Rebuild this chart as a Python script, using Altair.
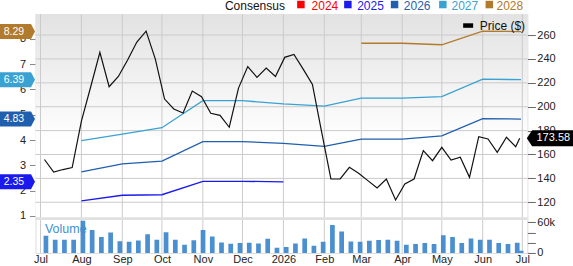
import altair as alt
import pandas as pd

# ---------------- data ----------------
price_dates = list(pd.date_range("2025-07-04", periods=52, freq="7D").strftime("%Y-%m-%d")) + ["2026-06-29"]
price = [155.8, 145.2, 147.4, 149.1, 188.0, 216.5, 245.5, 216.7, 225.3, 239.1,
         254.1, 263.3, 239.9, 206.4, 198.1, 194.7, 213.1, 208.4, 194.5, 192.8,
         182.8, 215.6, 233.6, 224.6, 232.4, 225.3, 241.3, 243.7, 231.5, 218.6,
         178.8, 139.5, 139.5, 149.3, 144.3, 138.1, 132.0, 139.5, 121.9, 135.3,
         139.5, 163.2, 154.8, 166.0, 155.4, 157.7, 140.9, 174.9, 173.0, 161.8,
         174.4, 166.5, 173.58]
volume_k = [33.5, 25.7, 25.7, 25.7, 63.0, 45.0, 31.0, 40.0, 23.0, 22.0,
            24.4, 36.8, 25.7, 40.6, 25.7, 16.0, 25.0, 45.0, 32.0, 20.5,
            18.0, 19.4, 20.0, 18.6, 27.7, 10.3, 11.6, 18.6, 28.3, 14.0,
            21.9, 54.8, 41.8, 22.5, 21.9, 23.8, 25.2, 25.7, 23.8, 16.0,
            17.4, 19.4, 17.4, 34.8, 31.0, 19.4, 28.3, 25.7, 25.7, 19.4,
            17.4, 20.0, 4.5]

eps_dates = ["2025-08-01", "2025-09-01", "2025-10-01", "2025-11-01", "2025-12-01",
             "2026-01-01", "2026-02-01", "2026-03-01", "2026-04-01", "2026-05-01",
             "2026-06-01", "2026-06-30"]
eps_2025 = [1.60, 1.82, 1.84, 2.37, 2.37, 2.35]
eps_2026 = [2.74, 3.06, 3.17, 3.94, 3.94, 3.87, 3.75, 4.04, 4.04, 4.17, 4.85, 4.83]
eps_2027 = [3.98, 4.24, 4.49, 5.56, 5.56, 5.43, 5.34, 5.66, 5.66, 5.72, 6.41, 6.39]
eps_2028 = [7.83, 7.83, 7.77, 8.31, 8.29]

series_names = ["2024", "2025", "2026", "2027", "2028"]
series_colors = ["#ff0000", "#1a1aee", "#1f5fae", "#3aa2d2", "#b27a2c"]

month_starts = ["2025-07-01", "2025-08-01", "2025-09-01", "2025-10-01", "2025-11-01",
                "2025-12-01", "2026-01-01", "2026-02-01", "2026-03-01", "2026-04-01",
                "2026-05-01", "2026-06-01", "2026-07-01"]
price_ticks = [120, 140, 160, 180, 200, 220, 240, 260]
eps_ticks = [1, 2, 3, 4, 5, 6, 7, 8]
vol_ticks = [0, 20, 40, 60]

# ---------------- tables ----------------
price_df = pd.DataFrame({"date": price_dates, "price": price, "vol": volume_k})
eps_rows = []
for name, vals, dates in [("2025", eps_2025, eps_dates[:6]), ("2026", eps_2026, eps_dates),
                          ("2027", eps_2027, eps_dates), ("2028", eps_2028, eps_dates[7:])]:
    for d, v in zip(dates, vals):
        eps_rows.append({"series": name, "date": d, "eps": v})
eps_df = pd.DataFrame(eps_rows)
last_eps = eps_df.groupby("series", as_index=False).last()
last_price = price_df.tail(1)

# ---------------- layout ----------------
W, H, PH = 492, 239, 204
FONT = "Liberation Sans"

xscale = alt.Scale(type="utc",
                   domain=[alt.DateTime(year=2025, month=7, date=1, utc=True),
                           alt.DateTime(year=2026, month=7, date=1, utc=True)])
xaxis = alt.Axis(values=[alt.DateTime(year=int(s[:4]), month=int(s[5:7]), date=1, utc=True) for s in month_starts],
                 labelExpr="utcFormat(datum.value, '%m') == '01' ? utcFormat(datum.value, '%Y') : utcFormat(datum.value, '%b')",
                 ticks=False, domain=False, grid=False, labelFlush=False, labelPadding=1,
                 labelFontSize=11, labelColor="#222", title=None, zindex=0)
price_scale = alt.Scale(domain=[106.86, 277.57], range=[PH, 0], zero=False, nice=False)
eps_scale = alt.Scale(domain=[0.921, 8.984], range=[PH, 0], zero=False, nice=False)
vol_scale = alt.Scale(domain=[0, 68.4], range=[H, PH], zero=False, nice=False)
color_scale = alt.Scale(domain=series_names, range=series_colors)

gradient = alt.Gradient(gradient="linear",
                        stops=[alt.GradientStop(offset=0, color="#e2e2e2"),
                               alt.GradientStop(offset=0.62, color="#ffffff")],
                        x1=0, x2=0, y1=0, y2=1)
one = pd.DataFrame({"k": [0]})

bg = alt.Chart(one).mark_rect(fill=gradient).encode(
    x=alt.value(0), x2=alt.value(W), y=alt.value(0), y2=alt.value(PH))

vgrid = alt.Chart(pd.DataFrame({"date": month_starts})).mark_rule(color="#cbcbcb", strokeWidth=1).encode(
    x=alt.X("date:T", scale=xscale, axis=xaxis), y=alt.value(0), y2=alt.value(H))

hgrid = alt.Chart(pd.DataFrame({"p": price_ticks})).mark_rule(color="#cbcbcb", strokeWidth=1).encode(
    y=alt.Y("p:Q", scale=price_scale, axis=None), x=alt.value(0), x2=alt.value(W))

sep = alt.Chart(one).mark_rule(color="#e0e0e0", strokeWidth=2.7).encode(
    y=alt.value(204.7), x=alt.value(0), x2=alt.value(W))

vol = alt.Chart(price_df).mark_bar(color="#4a8fd0", width=4.7, xOffset=1.5, clip=True).encode(
    x=alt.X("date:T", scale=xscale, axis=xaxis),
    y=alt.Y("vol:Q", scale=vol_scale,
            axis=alt.Axis(orient="right", values=vol_ticks, title=None, grid=False, domain=False,
                          labelExpr="datum.value == 0 ? '0' : datum.value + 'k'",
                          tickSize=8, tickColor="#666", labelPadding=1.5, labelFontSize=11,
                          labelColor="#222", zindex=0)))

eps_lines = alt.Chart(eps_df).mark_line(strokeWidth=1.3).encode(
    x=alt.X("date:T", scale=xscale, axis=xaxis),
    y=alt.Y("eps:Q", scale=eps_scale,
            axis=alt.Axis(orient="left", values=eps_ticks, title=None, grid=False, domain=False,
                          tickSize=6, tickColor="#888", labelPadding=4, labelFontSize=11,
                          labelColor="#222", zindex=0)),
    color=alt.Color("series:N", scale=color_scale, legend=None),
    detail="series:N")

price_line = alt.Chart(price_df).mark_line(color="#111111", strokeWidth=1.2).encode(
    x=alt.X("date:T", scale=xscale, axis=xaxis),
    y=alt.Y("price:Q", scale=price_scale,
            axis=alt.Axis(orient="right", values=price_ticks, title=None, grid=False, domain=False,
                          tickSize=8, tickColor="#666", labelPadding=1.5, labelFontSize=11,
                          labelColor="#222", zindex=0)))

left_flag_shape = "M-1,-0.417L0.78,-0.417L1,0L0.78,0.417L-1,0.417Z"
eps_flags = alt.Chart(last_eps).mark_point(shape=left_flag_shape, size=1296, filled=True,
                                             opacity=1, strokeWidth=0).encode(
    x=alt.value(-18.5),
    y=alt.Y("eps:Q", scale=eps_scale, axis=None),
    color=alt.Color("series:N", scale=color_scale, legend=None))
eps_flag_text = alt.Chart(last_eps).mark_text(color="white", fontSize=10.5, align="center",
                                                baseline="middle", font=FONT).encode(
    x=alt.value(-21.5),
    y=alt.Y("eps:Q", scale=eps_scale, axis=None),
    text=alt.Text("eps:Q", format=".2f"))

right_flag_shape = "M-1,0L-0.78,-0.333L1,-0.333L1,0.333L-0.78,0.333Z"
price_flag = alt.Chart(last_price).mark_point(shape=right_flag_shape, size=2304, filled=True,
                                                opacity=1, strokeWidth=0, color="#000000").encode(
    x=alt.value(515.5),
    y=alt.Y("price:Q", scale=price_scale, axis=None))
price_flag_text = alt.Chart(last_price).mark_text(color="white", fontSize=11, align="center",
                                                   baseline="middle", font=FONT).encode(
    x=alt.value(518),
    y=alt.Y("price:Q", scale=price_scale, axis=None),
    text=alt.Text("price:Q", format=".2f"))

# legends / labels
legend_square_x = [265.5, 312.5, 359.2, 407.5, 454.0]
legend_text_x = [276.2, 321.8, 368.5, 416.2, 461.2]
legend_layers = [
    alt.Chart(one).mark_text(text="Consensus", align="right", baseline="alphabetic", fontSize=12,
                             color="#111", font=FONT).encode(x=alt.value(249.5), y=alt.value(-4.5))
]
for nm, col, sx, tx in zip(series_names, series_colors, legend_square_x, legend_text_x):
    legend_layers.append(alt.Chart(one).mark_square(size=56, color=col, opacity=1, filled=True).encode(
        x=alt.value(sx), y=alt.value(-9.5)))
    legend_layers.append(alt.Chart(one).mark_text(text=nm, align="left", baseline="alphabetic",
                                                  fontSize=12, color=col, font=FONT).encode(
        x=alt.value(tx), y=alt.value(-4.5)))

price_key_shape = "M-1,-0.45L1,-0.45L1,0.45L-1,0.45Z"
price_key = alt.Chart(one).mark_point(shape=price_key_shape, size=100, filled=True, opacity=1,
                                      strokeWidth=0, color="#000").encode(
    x=alt.value(432.8), y=alt.value(11.5))
price_key_text = alt.Chart(one).mark_text(text="Price ($)", align="left", baseline="middle",
                                          fontSize=12, color="#111", font=FONT).encode(
    x=alt.value(444.5), y=alt.value(11.5))
vol_label = alt.Chart(one).mark_text(text="Volume", align="left", baseline="middle",
                                     fontSize=12.5, color="#3d8fd1", font=FONT).encode(
    x=alt.value(9.5), y=alt.value(215))

chart = alt.layer(
    bg, vgrid, hgrid, sep, vol, eps_lines, price_line,
    eps_flags, eps_flag_text, price_flag, price_flag_text,
    price_key, price_key_text, vol_label, *legend_layers
).resolve_scale(y="independent").properties(
    width=W, height=H,
    autosize=alt.AutoSizeParams(type="none"),
    padding={"left": 35.5, "top": 14, "right": 45.7, "bottom": 13},
).configure_view(stroke="#c8c8c8", strokeWidth=1).configure(font=FONT)

chart.save("out.html", embed_options={"renderer": "svg", "actions": False})
